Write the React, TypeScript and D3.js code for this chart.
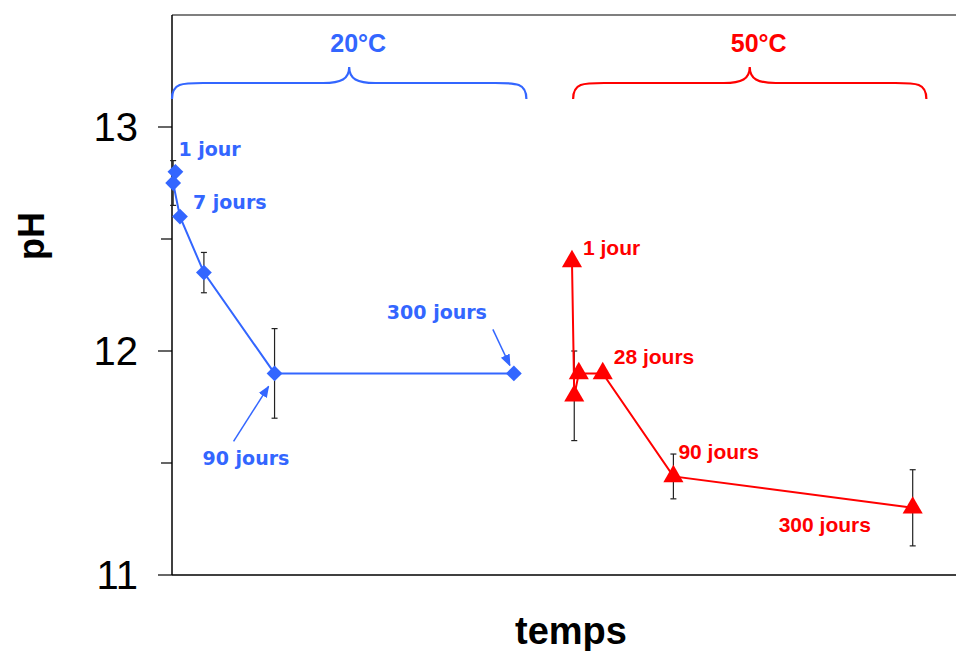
import React from "react";
import * as d3 from "d3";

// ---- data ----
const blueDays = [3, 1, 7, 28, 90, 300];
const bluePH = [12.8, 12.75, 12.6, 12.35, 11.9, 11.9];
const blueErr = [0, 0.1, 0, 0.09, 0.2, 0];

const redDays = [1, 3, 7, 28, 90, 300];
const redPH = [12.4, 11.8, 11.9, 11.9, 11.44, 11.3];
const redErr = [0, 0.2, 0, 0, 0.1, 0.17];
const redOffset = 350;

const yTicksMajor = [11, 12, 13];
const yTicksMinor = [11.5, 12.5];

const groupLabels = ["20°C", "50°C"];
const groupStart = [0, 352];
const groupEnd = [311, 662];

const blueLabels = ["1 jour", "7 jours", "90 jours", "300 jours"];
const blueLabelIdx = [0, 2, 4, 5];
const redLabels = ["1 jour", "28 jours", "90 jours", "300 jours"];
const redLabelIdx = [0, 3, 4, 5];

const BLUE = "#3366FF";
const RED = "#FF0000";

export default function App() {
  const W = 956, H = 651;
  const left = 172, right = 956, top = 15, bottom = 575;
  const x = d3.scaleLinear().domain([0, 688]).range([left, right]);
  const y = d3.scaleLinear().domain([11, 13.5]).range([bottom, top]);

  const blue = blueDays.map((d, i) => ({ x: x(d), y: y(bluePH[i]), v: bluePH[i], e: blueErr[i] }));
  const red = redDays.map((d, i) => ({ x: x(d + redOffset), y: y(redPH[i]), v: redPH[i], e: redErr[i] }));

  const line = d3.line<any>().x((d) => d.x).y((d) => d.y);
  const square = d3.symbol().type(d3.symbolSquare).size(125)();
  const tri = d3.symbol().type(d3.symbolTriangle).size(175)();

  const brace = (x0: number, x1: number) => {
    const xm = (x0 + x1) / 2;
    const yb = 99, yf = 83, yc = 67;
    return `M${x0},${yb} C${x0},${yf} ${x0 + 10},${yf} ${x0 + 31},${yf} L${xm - 26},${yf} C${xm - 8},${yf} ${xm},${yf - 4} ${xm},${yc} C${xm},${yf - 4} ${xm + 8},${yf} ${xm + 26},${yf} L${x1 - 31},${yf} C${x1 - 10},${yf} ${x1},${yf} ${x1},${yb}`;
  };

  const errBars = (pts: any[]) =>
    pts.filter((p) => p.e > 0).map((p, i) => (
      <g key={i} stroke="#222" strokeWidth={1.2}>
        <line x1={p.x} x2={p.x} y1={y(p.v + p.e)} y2={y(p.v - p.e)} />
        <line x1={p.x - 3} x2={p.x + 3} y1={y(p.v + p.e)} y2={y(p.v + p.e)} />
        <line x1={p.x - 3} x2={p.x + 3} y1={y(p.v - p.e)} y2={y(p.v - p.e)} />
      </g>
    ));

  // label offsets (annotation positions relative to points)
  const blueOff = [[3, -16], [13, -8], [-72, 92], [-127, -54]];
  const redOff = [[11, -6], [11, -9], [5, -17], [-134, 24]];

  return (
    <svg width={W} height={H} style={{ position: "absolute", left: 0, top: 0, background: "#fff" }}
      fontFamily="'Liberation Sans', Arial, sans-serif">
      <defs>
        <marker id="arrB" viewBox="0 0 10 10" refX="9" refY="5" markerWidth="8" markerHeight="8" orient="auto">
          <path d="M0,1 L10,5 L0,9 Z" fill={BLUE} />
        </marker>
      </defs>
      {/* frame */}
      <line x1={left} x2={right} y1={top} y2={top} stroke="#555" strokeWidth={1.5} />
      <line x1={left} x2={right} y1={bottom} y2={bottom} stroke="#000" strokeWidth={1.5} />
      <line x1={left} x2={left} y1={top} y2={bottom} stroke="#000" strokeWidth={1.5} />
      {yTicksMajor.map((t) => (
        <g key={t}>
          <line x1={left - 14} x2={left} y1={y(t)} y2={y(t)} stroke="#000" strokeWidth={1.2} />
          <text x={138} y={y(t)} dy="0.36em" textAnchor="end" fontSize={40}>{t}</text>
        </g>
      ))}
      {yTicksMinor.map((t) => (
        <line key={t} x1={left - 11} x2={left} y1={y(t)} y2={y(t)} stroke="#000" strokeWidth={1.2} />
      ))}
      <text transform="translate(44,236) rotate(-90)" textAnchor="middle" fontSize={36} fontWeight="bold">pH</text>
      <text x={571} y={644} textAnchor="middle" fontSize={38} fontWeight="bold">temps</text>

      {/* group braces */}
      {groupLabels.map((g, i) => (
        <g key={g}>
          <path d={brace(x(groupStart[i]), x(groupEnd[i]))} fill="none" stroke={i === 0 ? BLUE : RED} strokeWidth={2.2} />
          <text x={(x(groupStart[i]) + x(groupEnd[i])) / 2 + 9} y={52} textAnchor="middle" fontSize={25}
            fontWeight="bold" fill={i === 0 ? BLUE : RED}>{g}</text>
        </g>
      ))}

      {errBars(blue)}
      {errBars(red)}

      <path d={line(blue) || ""} fill="none" stroke={BLUE} strokeWidth={2} />
      <path d={line(red) || ""} fill="none" stroke={RED} strokeWidth={2} />
      {blue.map((p, i) => (
        <path key={i} d={square} transform={`translate(${p.x},${p.y}) rotate(45)`} fill={BLUE} />
      ))}
      {red.map((p, i) => (
        <path key={i} d={tri} transform={`translate(${p.x},${p.y})`} fill={RED} />
      ))}

      {blueLabels.map((l, i) => {
        const p = blue[blueLabelIdx[i]];
        return (
          <text key={l} x={p.x + blueOff[i][0]} y={p.y + blueOff[i][1]} fontSize={19} fontWeight="bold"
            fill={BLUE} fontFamily="'DejaVu Sans', Verdana, sans-serif">{l}</text>
        );
      })}
      {redLabels.map((l, i) => {
        const p = red[redLabelIdx[i]];
        return (
          <text key={l} x={p.x + redOff[i][0]} y={p.y + redOff[i][1]} fontSize={21} fontWeight="bold" fill={RED}>{l}</text>
        );
      })}
      {/* arrows */}
      <line x1={blue[5].x - 21} y1={blue[5].y - 44} x2={blue[5].x - 4} y2={blue[5].y - 8} stroke={BLUE} strokeWidth={1.5} markerEnd="url(#arrB)" />
      <line x1={blue[4].x - 41} y1={blue[4].y + 68} x2={blue[4].x - 6} y2={blue[4].y + 13} stroke={BLUE} strokeWidth={1.5} markerEnd="url(#arrB)" />
    </svg>
  );
}
